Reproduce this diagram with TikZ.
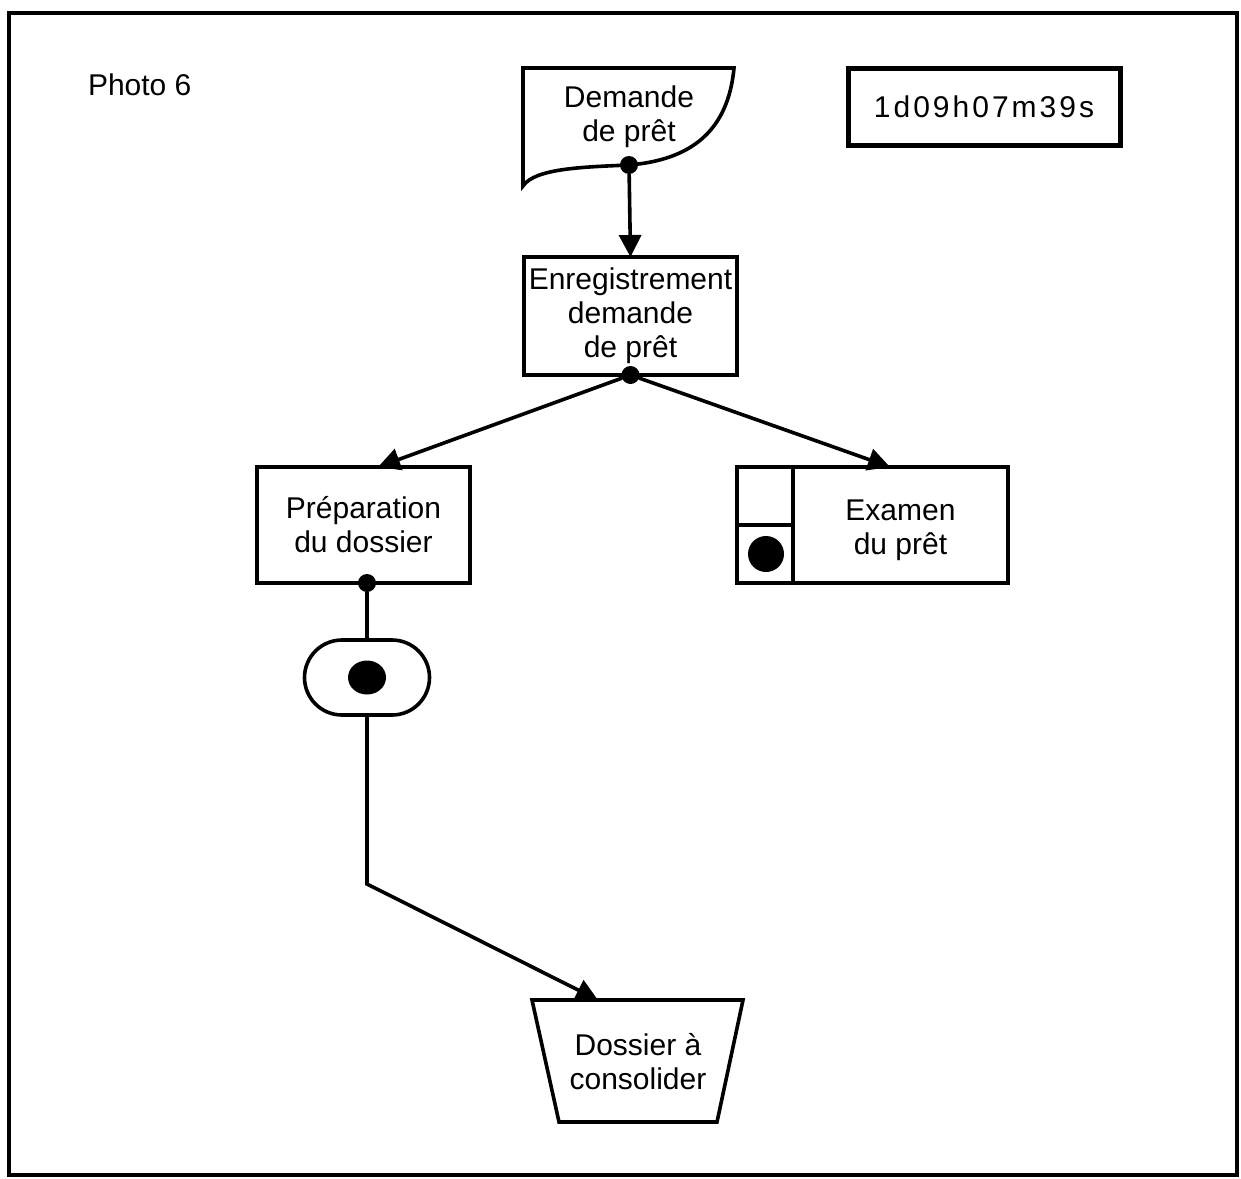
\documentclass[tikz,border=0pt]{standalone}
\usepackage{fontspec}
\setmainfont{Liberation Sans}
\usetikzlibrary{arrows.meta,shapes.geometric}

\begin{document}
\begin{tikzpicture}[y=0.5pt, x=0.5pt, yscale=-1, inner sep=0pt, outer sep=0pt,
  font=\fontsize{15}{17}\selectfont,
  box/.style={draw=black, line width=1.8pt, align=center},
  txt/.style={align=center},
  dot/.style={circle, fill=black, minimum size=9pt},
  bigdot/.style={ellipse, fill=black, minimum width=19pt, minimum height=17pt},
  link/.style={draw=black, line width=1.8pt, line join=miter},
  flow/.style={link, -{Triangle[length=11pt,width=11pt]}}]
  \useasboundingbox (0,0) rectangle (1241,1178);
  \path[draw=black, line width=1.8pt] (9,13) rectangle (1237,1175);
  \path (88,85) node[anchor=west] (photo) {Photo 6};
  \path (984,106.5) node[draw=black, line width=2.5pt, minimum width=136pt,
    minimum height=38.5pt] (chrono) {\addfontfeatures{LetterSpace=10}1d09h07m39s};
  \path[draw=black, line width=1.8pt, line join=miter] (523,68) -- (734,68)
    .. controls (728,132) and (690,160) .. (629,165)
    .. controls (585,167) and (535,168) .. (523,186) -- cycle;
  \path (629,117) node[txt] (demande) {Demande\\de prêt};
  \path (629,165) node[dot] (demdot) {};
  \path (630.5,316) node[box, minimum width=106.5pt, minimum height=59pt]
    (enreg) {Enregistrement\\demande\\de prêt};
  \path (enreg.south) node[dot] (enregdot) {};
  \path (363.5,525) node[box, minimum width=106.5pt, minimum height=58pt]
    (prep) {Préparation\\du dossier};
  \path (367,583) node[dot] (prepdot) {};
  \path (872.5,525) node[box, minimum width=135.5pt, minimum height=58pt] (exam) {};
  \path[link] (793,467) -- (793,583);
  \path[link] (737,525) -- (793,525);
  \path (900.5,530) node[txt] (examtxt) {Examen\\du prêt};
  \path (766,554) node[dot, minimum size=18pt] (examdot) {};
  \path (367,677.5) node[draw=black, line width=1.8pt, minimum width=62.5pt,
    minimum height=37.5pt, rounded corners=18.75pt] (attente) {};
  \path (attente) node[bigdot] (attdot) {};
  \path[draw=black, line width=1.8pt, line join=miter] (532,1000) -- (743,1000)
    -- (717,1122) -- (559,1122) -- cycle;
  \path (638,1062) node[txt] (dossier) {Dossier à\\consolider};
  \coordinate (enregin) at (enreg.north);
  \coordinate (prepin) at (378,467);
  \coordinate (examin) at (890,467);
  \coordinate (coude) at (369,884);
  \coordinate (dossin) at (598,1000);
  \path[flow] (demdot) -- (enregin);
  \path[flow] (enregdot) -- (prepin);
  \path[flow] (enregdot) -- (examin);
  \path[link] (prepdot) -- (attente.north);
  \path[flow] (attente.south) -- (attente.south |- coude) -- (dossin);
\end{tikzpicture}
\end{document}
